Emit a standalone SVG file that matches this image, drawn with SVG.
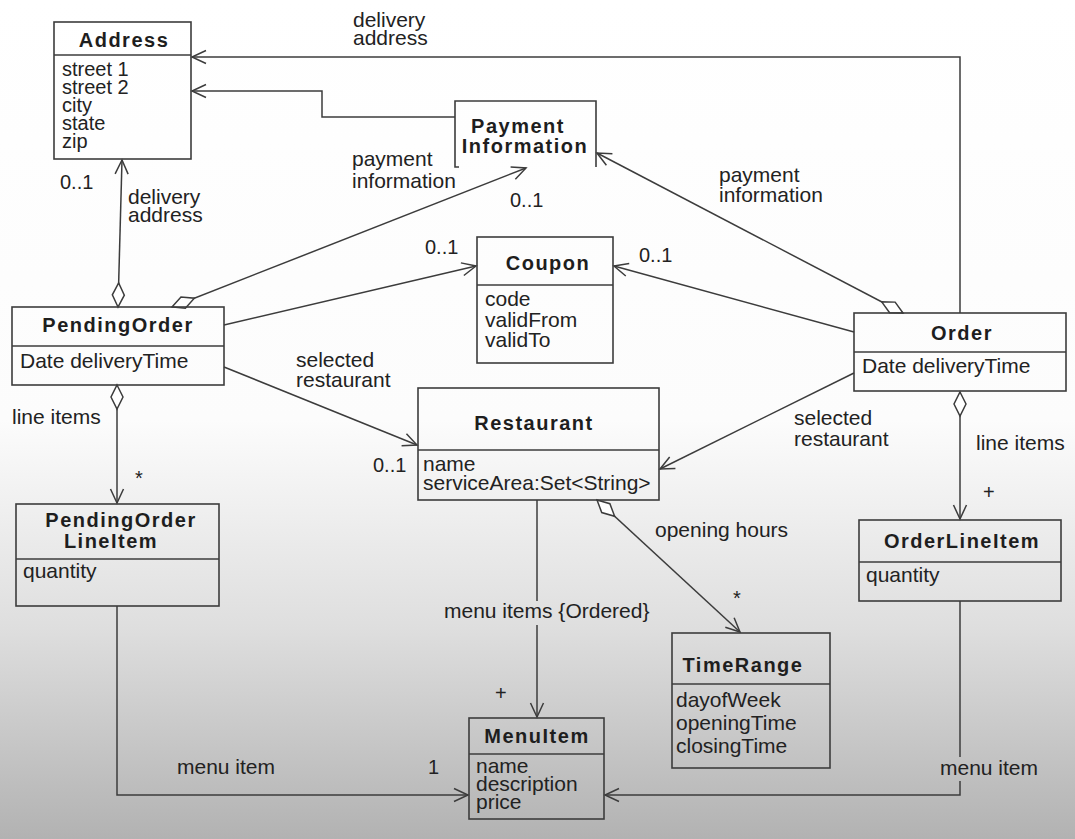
<svg xmlns="http://www.w3.org/2000/svg" width="1075" height="839" viewBox="0 0 1075 839">
<defs>
<linearGradient id="bg" x1="0" y1="0" x2="0" y2="1">
<stop offset="0" stop-color="#ffffff"/>
<stop offset="0.5" stop-color="#fcfcfc"/>
<stop offset="0.75" stop-color="#dedede"/>
<stop offset="1" stop-color="#b2b2b2"/>
</linearGradient>
<marker id="arr" viewBox="-16 -9 18 18" refX="0" refY="0" markerWidth="18" markerHeight="18" orient="auto" markerUnits="userSpaceOnUse">
<path d="M-14,-6.5 L0,0 L-14,6.5" fill="none" stroke="#3c3c3c" stroke-width="1.5"/>
</marker>
<marker id="dia" viewBox="-2 -8 28 16" refX="0" refY="0" markerWidth="28" markerHeight="16" orient="auto" markerUnits="userSpaceOnUse">
<path d="M0,0 L12,-6 L24,0 L12,6 Z" fill="#ffffff" stroke="#3c3c3c" stroke-width="1.5"/>
</marker>
<style>
.box{fill:none;stroke:#3c3c3c;stroke-width:1.6}
.ln{fill:none;stroke:#3c3c3c;stroke-width:1.5}
.t{font-family:"Liberation Sans",Arial,sans-serif;font-weight:bold;font-size:20px;letter-spacing:1.5px;fill:#1e1e1e;text-anchor:middle}
.a{font-family:"Liberation Sans",Arial,sans-serif;font-size:21px;fill:#222}
.s{font-family:"Liberation Sans",Arial,sans-serif;font-size:20px;fill:#222}
</style>
</defs>
<rect x="0" y="0" width="1075" height="839" fill="url(#bg)"/>

<g id="connectors">
<path class="ln" d="M960,313 V57 H192" marker-end="url(#arr)"/>
<path class="ln" d="M455,117 H322 V91 H192" marker-end="url(#arr)"/>
<path class="ln" d="M118,307 L122,160" marker-start="url(#dia)" marker-end="url(#arr)"/>
<path class="ln" d="M172,307 L526,168" marker-start="url(#dia)" marker-end="url(#arr)"/>
<path class="ln" d="M224,325 L476,266" marker-end="url(#arr)"/>
<path class="ln" d="M224,367 L417,445" marker-end="url(#arr)"/>
<path class="ln" d="M117,385 V503" marker-start="url(#dia)" marker-end="url(#arr)"/>
<path class="ln" d="M854,332 L614,266" marker-end="url(#arr)"/>
<path class="ln" d="M903,313 L597,153" marker-start="url(#dia)" marker-end="url(#arr)"/>
<path class="ln" d="M854,373 L660,469" marker-end="url(#arr)"/>
<path class="ln" d="M960,392 V519" marker-start="url(#dia)" marker-end="url(#arr)"/>
<path class="ln" d="M537,500 V601"/>
<path class="ln" d="M537,625 V717" marker-end="url(#arr)"/>
<path class="ln" d="M597,500 L740,632" marker-start="url(#dia)" marker-end="url(#arr)"/>
<path class="ln" d="M117,606 V795 H468" marker-end="url(#arr)"/>
<path class="ln" d="M960,601 V757"/>
<path class="ln" d="M960,781 V795 H605" marker-end="url(#arr)"/>
</g>

<g id="labels">
<text class="a" x="353" y="27">delivery</text>
<text class="a" x="353" y="45">address</text>
<text class="a" x="352" y="166">payment</text>
<text class="a" x="352" y="188">information</text>
<text class="s" x="60" y="189">0..1</text>
<text class="a" x="128" y="204">delivery</text>
<text class="a" x="128" y="222">address</text>
<text class="s" x="510" y="207">0..1</text>
<text class="a" x="719" y="182">payment</text>
<text class="a" x="719" y="202">information</text>
<text class="s" x="425" y="254">0..1</text>
<text class="s" x="639" y="262">0..1</text>
<text class="a" x="296" y="367">selected</text>
<text class="a" x="296" y="387">restaurant</text>
<text class="a" x="794" y="425">selected</text>
<text class="a" x="794" y="446">restaurant</text>
<text class="a" x="12" y="424">line items</text>
<text class="a" x="976" y="450">line items</text>
<text class="s" x="135" y="485">*</text>
<text class="s" x="373" y="472">0..1</text>
<text class="s" x="983" y="499">+</text>
<text class="a" x="655" y="537">opening hours</text>
<text class="s" x="733" y="605">*</text>
<text class="a" x="444" y="618">menu items {Ordered}</text>
<text class="s" x="495" y="700">+</text>
<text class="a" x="177" y="774">menu item</text>
<text class="s" x="428" y="774">1</text>
<text class="a" x="940" y="775">menu item</text>
</g>

<g id="Address">
<rect class="box" x="54" y="22" width="137" height="137"/>
<line class="box" x1="54" y1="55" x2="191" y2="55"/>
<text class="t" x="124" y="47">Address</text>
<text class="s" x="62" y="76">street 1</text>
<text class="s" x="62" y="94">street 2</text>
<text class="s" x="62" y="112">city</text>
<text class="s" x="62" y="130">state</text>
<text class="s" x="62" y="148">zip</text>
</g>

<g id="PaymentInformation">
<path class="box" d="M459,167 H455 V101 H596 V167"/>
<text class="t" x="518" y="133">Payment</text>
<text class="t" x="525" y="153">Information</text>
</g>

<g id="Coupon">
<rect class="box" x="477" y="237" width="136" height="126"/>
<line class="box" x1="477" y1="285" x2="613" y2="285"/>
<text class="t" x="548" y="270">Coupon</text>
<text class="a" x="485" y="306">code</text>
<text class="a" x="485" y="327">validFrom</text>
<text class="a" x="485" y="347">validTo</text>
</g>

<g id="PendingOrder">
<rect class="box" x="12" y="307" width="212" height="78"/>
<line class="box" x1="12" y1="346" x2="224" y2="346"/>
<text class="t" x="118" y="332">PendingOrder</text>
<text class="a" x="20" y="368">Date deliveryTime</text>
</g>

<g id="Order">
<rect class="box" x="854" y="313" width="212" height="78"/>
<line class="box" x1="854" y1="352" x2="1066" y2="352"/>
<text class="t" x="962" y="340">Order</text>
<text class="a" x="862" y="373">Date deliveryTime</text>
</g>

<g id="Restaurant">
<rect class="box" x="418" y="388" width="241" height="112"/>
<line class="box" x1="418" y1="450" x2="659" y2="450"/>
<text class="t" x="534" y="430">Restaurant</text>
<text class="a" x="423" y="471">name</text>
<text class="a" x="423" y="490">serviceArea:Set&lt;String&gt;</text>
</g>

<g id="PendingOrderLineItem">
<rect class="box" x="16" y="504" width="203" height="102"/>
<line class="box" x1="16" y1="559" x2="219" y2="559"/>
<text class="t" x="121" y="527">PendingOrder</text>
<text class="t" x="111" y="548">LineItem</text>
<text class="a" x="23" y="578">quantity</text>
</g>

<g id="OrderLineItem">
<rect class="box" x="859" y="520" width="202" height="81"/>
<line class="box" x1="859" y1="562" x2="1061" y2="562"/>
<text class="t" x="962" y="548">OrderLineItem</text>
<text class="a" x="866" y="582">quantity</text>
</g>

<g id="TimeRange">
<rect class="box" x="672" y="633" width="158" height="135"/>
<line class="box" x1="672" y1="684" x2="830" y2="684"/>
<text class="t" x="743" y="672">TimeRange</text>
<text class="a" x="676" y="707">dayofWeek</text>
<text class="a" x="676" y="730">openingTime</text>
<text class="a" x="676" y="753">closingTime</text>
</g>

<g id="MenuItem">
<rect class="box" x="469" y="718" width="135" height="101"/>
<line class="box" x1="469" y1="754" x2="604" y2="754"/>
<text class="t" x="537" y="743">MenuItem</text>
<text class="a" x="476" y="773">name</text>
<text class="a" x="476" y="791">description</text>
<text class="a" x="476" y="809">price</text>
</g>
</svg>
